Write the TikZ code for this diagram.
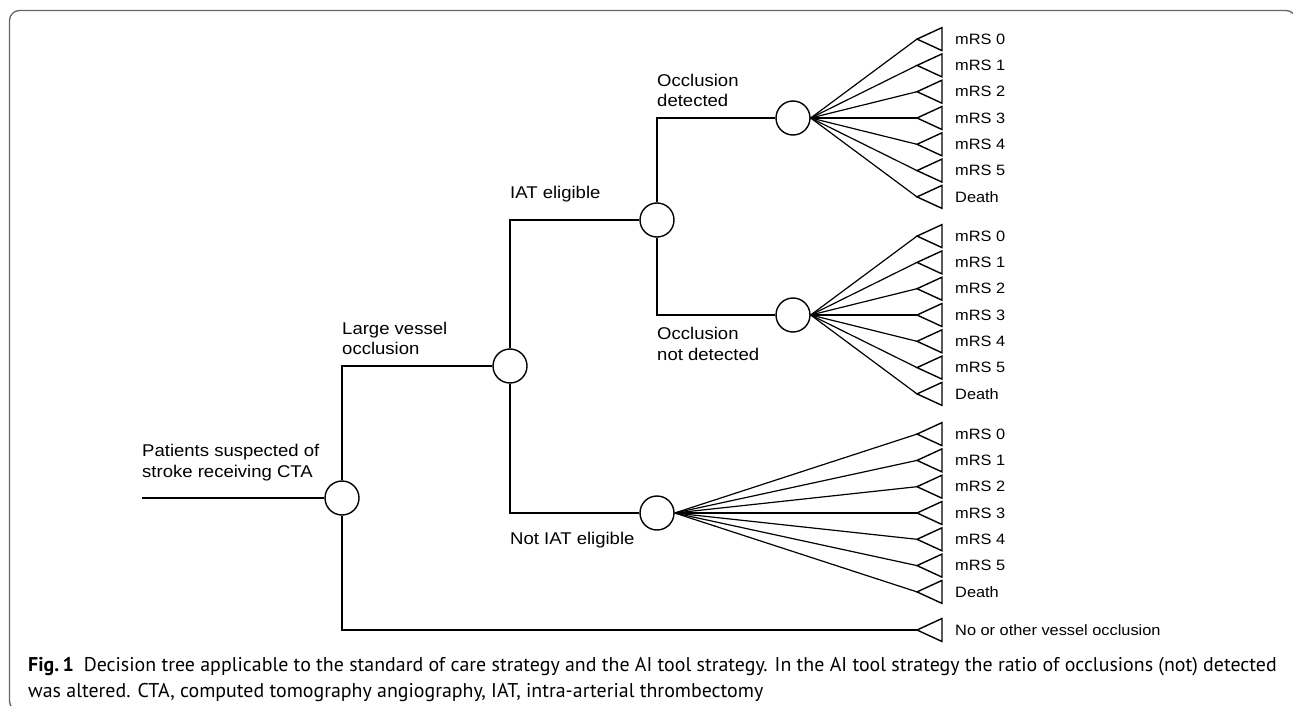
\documentclass[tikz,border=0pt]{standalone}
\usepackage{fontspec}
\setmainfont{Liberation Sans}
\newfontfamily\lblfont[FakeStretch=1.09]{Liberation Sans}
\newfontfamily\capfont{PT Sans}
\usetikzlibrary{positioning}
\definecolor{framegray}{RGB}{100,100,100}

\begin{document}
\begin{tikzpicture}[x=1pt,y=1pt,yscale=-1,xscale=1,
  chance/.style={circle, draw, line width=1.4pt, minimum size=34pt, inner sep=0pt},
  branch/.style={line width=1.4pt},
  fan/.style={line width=1.2pt},
  lbl/.style={font=\lblfont\fontsize{17}{20.5}\selectfont, align=left, inner sep=0pt},
  leaf/.style={font=\lblfont\fontsize{15}{18}\selectfont, anchor=west, inner sep=0pt}]
\useasboundingbox (0,0) rectangle (1293,706);
\clip (0,0) rectangle (1293,706);

%Frame
\draw [framegray, line width=1.3pt, rounded corners=10pt] (9.5,711) rectangle (1296,10.5);

%Chance nodes
\coordinate (start) at (142,498);
\node [chance] (root) at (342,498) {};
\node [chance] (lvo) at (510,366) {};
\node [chance] (iat) at (657,220) {};
\node [chance] (notiat) at (657,513) {};
\node [chance] (det) at (793,118) {};
\node [chance] (notdet) at (793,315) {};
\coordinate (other) at (917,630);

%Branches
\draw [branch] (start) -- (root.west);
\draw [branch] (root.north) |- (lvo.west);
\draw [branch] (root.south) |- (other);
\draw [branch] (lvo.north) |- (iat.west);
\draw [branch] (lvo.south) |- (notiat.west);
\draw [branch] (iat.north) |- (det.west);
\draw [branch] (iat.south) |- (notdet.west);

%Corners for the labels
\coordinate (clvo) at (root |- lvo);
\coordinate (ciat) at (lvo |- iat);
\coordinate (cnotiat) at (lvo |- notiat);
\coordinate (cdet) at (iat |- det);
\coordinate (cnotdet) at (iat |- notdet);

% Text Node
\node [lbl, anchor=south west] (ptxt) at ([yshift=-17pt]start) {Patients suspected of\\stroke receiving CTA};
% Text Node
\node [lbl, anchor=south west] (lvotxt) at ([yshift=-11pt]clvo) {Large vessel\\occlusion};
% Text Node
\node [lbl, anchor=south west] (iattxt) at ([yshift=-18pt]ciat) {IAT eligible};
% Text Node
\node [lbl, anchor=north west] (notiattxt) at ([yshift=19pt]cnotiat) {Not IAT eligible};
% Text Node
\node [lbl, anchor=south west] (dettxt) at ([yshift=-11pt]cdet) {Occlusion\\detected};
% Text Node
\node [lbl, anchor=north west] (notdettxt) at ([yshift=12pt]cnotdet) {Occlusion\\not detected};

%Terminal nodes
\foreach \grp/\src in {ga/det, gb/notdet, gc/notiat}{
  \foreach \lbl [count=\i from 0] in {mRS 0, mRS 1, mRS 2, mRS 3, mRS 4, mRS 5, Death}{
    \coordinate (\grp-\i) at ([yshift={(\i-3)*26.3}]\src -| other);
    \draw [fan] (\src.east) -- (\grp-\i);
    \draw [branch, line join=miter] (\grp-\i) -- ++(25,-11.5) -- ++(0,23) -- cycle;
    \node [leaf] (\grp-\i-txt) at ([xshift=38pt]\grp-\i) {\lbl};
  }
}
\draw [branch, line join=miter] (other) -- ++(25,-11.5) -- ++(0,23) -- cycle;
\node [leaf] (othertxt) at ([xshift=38pt]other) {No or other vessel occlusion};

% Caption (base = baseline of its last line)
\node [anchor=base west, align=left, inner sep=0pt, font=\capfont\fontsize{19.9}{26}\selectfont] (caption) at (28,697) {\textbf{Fig.\,1}\enspace Decision tree applicable to the standard of care strategy and the AI tool strategy. In the AI tool strategy the ratio of occlusions (not) detected\\was altered. CTA, computed tomography angiography, IAT, intra-arterial thrombectomy};

\end{tikzpicture}
\end{document}
